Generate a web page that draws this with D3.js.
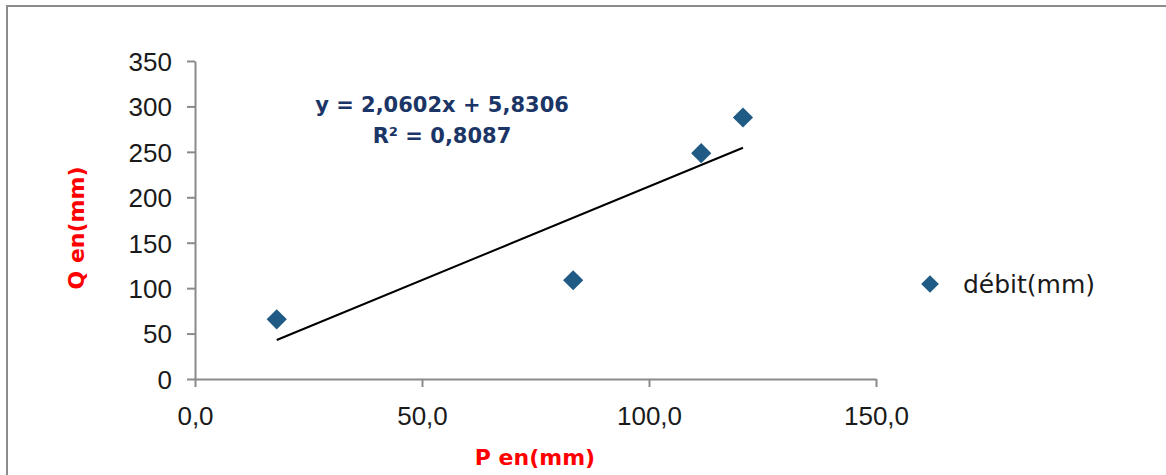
<!DOCTYPE html>
<html>
<head>
<meta charset="utf-8">
<script src="https://cdn.jsdelivr.net/npm/d3@7"></script>
<style>
  body { margin: 0; background: #fff; }
  svg { display: block; font-family: "DejaVu Sans", sans-serif; }
</style>
</head>
<body>
<script>
// data
const pValues = [18.0, 83.3, 111.5, 120.7];   // P en(mm)
const qValues = [65.7, 108.7, 248.5, 287.8];  // Q en(mm)
const xTicks = [0, 50, 100, 150];
const yTicks = [0, 50, 100, 150, 200, 250, 300, 350];
const seriesName = 'débit(mm)';
const trendSlope = 2.0602, trendIntercept = 5.8306, trendR2 = 0.8087;

let width = 1166, height = 475;
let plot = {left: 195, right: 876, top: 61, bottom: 379};

const fr = d3.formatLocale({decimal: ',', thousands: ' ', grouping: [3], currency: ['', '€']});
const fmtX = fr.format('.1f'), fmtCoef = fr.format('.4f');

let svg = d3.select('body').append('svg')
    .attr('width', width)
    .attr('height', height);

// chart area border (top + left visible)
svg.append('path')
    .attr('d', `M7,${height} V6 H${width}`)
    .attr('fill', 'none')
    .attr('stroke', '#8c8c8c')
    .attr('stroke-width', 2);

let xScale = d3.scaleLinear().domain([0, 150]).range([plot.left, plot.right]);
let yScale = d3.scaleLinear().domain([0, 350]).range([plot.bottom, plot.top]);

let xAxis = svg.append('g')
    .attr('transform', `translate(0,${plot.bottom})`)
    .call(d3.axisBottom(xScale).tickValues(xTicks).tickFormat(fmtX).tickSize(8).tickSizeOuter(0));
let yAxis = svg.append('g')
    .attr('transform', `translate(${plot.left},0)`)
    .call(d3.axisLeft(yScale).tickValues(yTicks).tickFormat(d3.format('d')).tickSize(8).tickPadding(15).tickSizeOuter(0));

[xAxis, yAxis].forEach(a => {
    a.select('.domain').attr('stroke', '#8a8a8a').attr('stroke-width', 2);
    a.selectAll('.tick line').attr('stroke', '#8a8a8a').attr('stroke-width', 2);
    a.selectAll('.tick text').attr('fill', '#1a1a1a').style('font-size', '26px');
});
xAxis.selectAll('.tick text').attr('y', 46).attr('dy', 0);
yAxis.selectAll('.tick text').attr('dy', '0.36em');

// linear trendline
let x0 = d3.min(pValues), x1 = d3.max(pValues);
svg.append('path')
    .attr('d', d3.line()([[xScale(x0), yScale(trendSlope*x0 + trendIntercept)],
                          [xScale(x1), yScale(trendSlope*x1 + trendIntercept)]]))
    .attr('stroke', '#000')
    .attr('stroke-width', 2);

// points
let diamond = d3.symbol().type(d3.symbolDiamond2).size(260);
svg.selectAll('path.pt')
    .data(pValues.map((p, i) => [p, qValues[i]]))
    .enter().append('path')
    .classed('pt', true)
    .attr('d', diamond)
    .attr('transform', d => `translate(${xScale(d[0])},${yScale(d[1])})`)
    .attr('fill', '#1f5b84');

// trendline equation
let eq = svg.append('text')
    .attr('text-anchor', 'middle')
    .attr('fill', '#1b3566')
    .style('font-weight', 'bold')
    .style('font-size', '21px');
eq.append('tspan').attr('x', 442).attr('y', 112)
    .text(`y = ${fmtCoef(trendSlope)}x + ${fmtCoef(trendIntercept)}`);
eq.append('tspan').attr('x', 442).attr('y', 143)
    .text(`R² = ${fmtCoef(trendR2)}`);

// axis titles
svg.append('text')
    .attr('transform', 'translate(84,228) rotate(-90)')
    .attr('text-anchor', 'middle')
    .attr('fill', '#ff0000')
    .style('font-weight', 'bold')
    .style('font-size', '22px')
    .text('Q en(mm)');
svg.append('text')
    .attr('x', 535).attr('y', 465)
    .attr('text-anchor', 'middle')
    .attr('fill', '#ff0000')
    .style('font-weight', 'bold')
    .style('font-size', '22px')
    .text('P en(mm)');

// legend
let legend = svg.append('g').attr('transform', 'translate(930,284)');
legend.append('path')
    .attr('d', d3.symbol().type(d3.symbolDiamond2).size(200))
    .attr('fill', '#1f5b84');
legend.append('text')
    .attr('x', 33).attr('y', 9)
    .attr('fill', '#1a1a1a')
    .style('font-size', '25px')
    .text(seriesName);
</script>
</body>
</html>
